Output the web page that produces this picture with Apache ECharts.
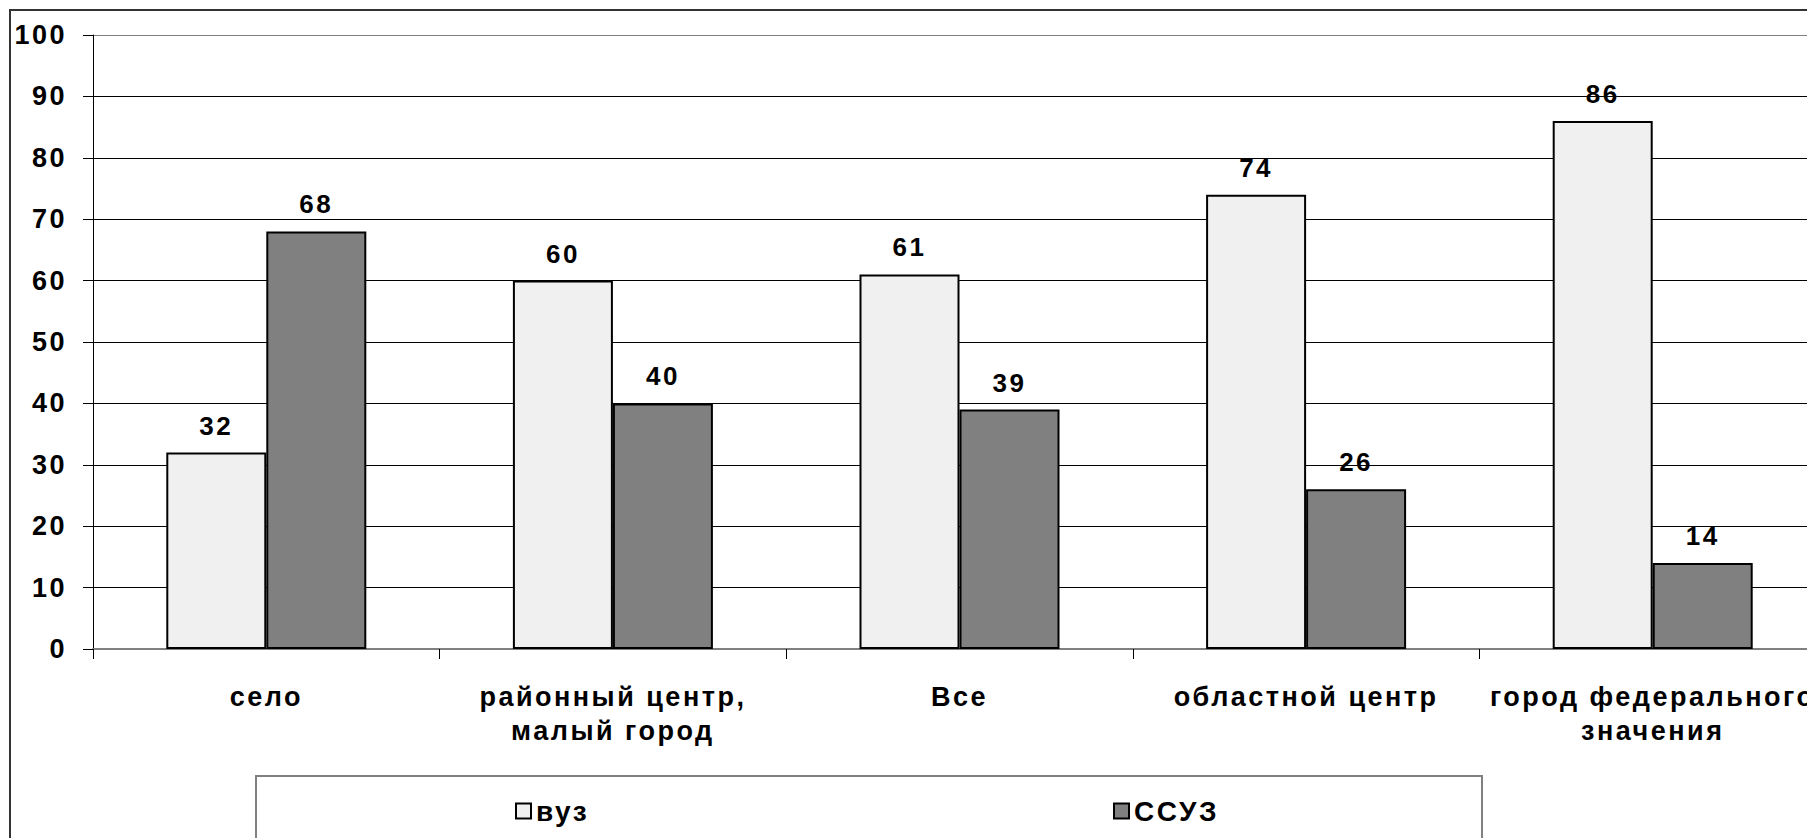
<!DOCTYPE html>
<html>
<head>
<meta charset="utf-8">
<script src="https://cdn.jsdelivr.net/npm/echarts@6/dist/echarts.min.js"></script>
<style>
  html, body { margin: 0; padding: 0; background: #fff; }
  #chart { width: 1807px; height: 838px; }
  /* разрядка как в исходнике */
  #chart text { letter-spacing: 2.5px; }
</style>
</head>
<body>
<div id="chart"></div>
<script>
// данные
var categories = ['село', 'районный центр,\nмалый город', 'Все', 'областной центр', 'город федерального\nзначения'];
var vuzValues = [32, 60, 61, 74, 86];
var ssuzValues = [68, 40, 39, 26, 14];
var seriesNames = ['вуз', 'ССУЗ'];

var font = 'Liberation Sans, Arial, sans-serif';

var chart = echarts.init(document.getElementById('chart'), null, { renderer: 'svg' });
var option = {
    animation: false,
    backgroundColor: '#fff',
    graphic: [
        { // внешняя рамка
            type: 'rect',
            shape: { x: 10, y: 10, width: 1900, height: 900 },
            style: { fill: 'none', stroke: '#333', lineWidth: 2 }
        },
        { // рамка легенды
            type: 'rect',
            shape: { x: 256, y: 776, width: 1226, height: 100 },
            style: { fill: 'none', stroke: '#808080', lineWidth: 2 }
        }
    ],
    legend: [{
        data: [seriesNames[0]],
        left: 515, top: 797, padding: 0,
        icon: 'rect',
        itemWidth: 15, itemHeight: 15, itemGap: 4,
        textStyle: { fontFamily: font, fontWeight: 'bold', fontSize: 28, color: '#000' }
    }, {
        data: [seriesNames[1]],
        left: 1113, top: 797, padding: 0,
        icon: 'rect',
        itemWidth: 15, itemHeight: 15, itemGap: 4,
        textStyle: { fontFamily: font, fontWeight: 'bold', fontSize: 28, color: '#000' }
    }],
    grid: { left: 93, top: 35, width: 1733, height: 614, containLabel: false, outerBoundsMode: 'none' },
    xAxis: {
        type: 'category',
        data: categories,
        boundaryGap: true,
        axisLine: { lineStyle: { color: '#808080', width: 2 } },
        axisTick: { show: true, length: 10, interval: 0, lineStyle: { color: '#000' } },
        axisLabel: {
            interval: 0, margin: 31,
            fontFamily: font, fontWeight: 'bold', fontSize: 27, lineHeight: 34, color: '#000'
        }
    },
    yAxis: {
        type: 'value',
        min: 0, max: 100, interval: 10,
        axisLine: { show: true, lineStyle: { color: '#000', width: 1 } },
        axisTick: { show: true, length: 10, lineStyle: { color: '#000' } },
        axisLabel: {
            margin: 26,
            fontFamily: font, fontWeight: 'bold', fontSize: 27, color: '#000'
        },
        splitLine: {
            lineStyle: {
                color: ['#808080', '#000', '#000', '#000', '#000', '#000', '#000', '#000', '#000', '#000', '#808080'],
                width: 1
            }
        }
    },
    series: [{
        name: seriesNames[0],
        type: 'bar',
        data: vuzValues,
        barWidth: 100,
        barGap: '0%',
        itemStyle: { color: '#f0f0f0', borderColor: '#000', borderWidth: 2 },
        label: {
            show: true, position: 'top', distance: 14,
            fontFamily: font, fontWeight: 'bold', fontSize: 26, color: '#000'
        }
    }, {
        name: seriesNames[1],
        type: 'bar',
        data: ssuzValues,
        barWidth: 100,
        barGap: '0%',
        itemStyle: { color: '#808080', borderColor: '#000', borderWidth: 2 },
        label: {
            show: true, position: 'top', distance: 14,
            fontFamily: font, fontWeight: 'bold', fontSize: 26, color: '#000'
        }
    }]
};
chart.setOption(option);
</script>
</body>
</html>
